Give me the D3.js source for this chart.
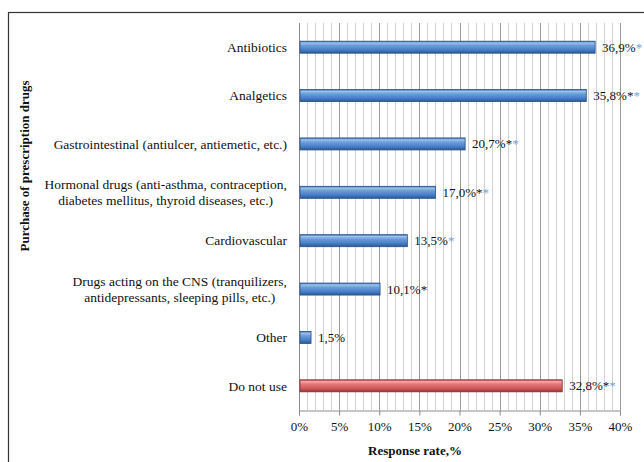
<!DOCTYPE html>
<html>
<head>
<meta charset="utf-8">
<script src="https://cdn.jsdelivr.net/npm/d3@7"></script>
<style>
  html, body { margin: 0; padding: 0; background: #fff; }
  svg { display: block; }
  text { font-family: "Liberation Serif", "Times New Roman", serif; fill: #111; }
</style>
</head>
<body>
<svg id="chart" width="644" height="462"></svg>
<script>
// Purchase of prescription drugs, share of respondents (%)
const categories = [
  ["Antibiotics"],
  ["Analgetics"],
  ["Gastrointestinal (antiulcer, antiemetic, etc.)"],
  ["Hormonal drugs (anti-asthma, contraception,", "diabetes mellitus, thyroid diseases, etc.)"],
  ["Cardiovascular"],
  ["Drugs acting on the CNS (tranquilizers,", "antidepressants, sleeping pills, etc.)"],
  ["Other"],
  ["Do not use"]
];
const values = [36.9, 35.8, 20.7, 17.0, 13.5, 10.1, 1.5, 32.8];
const valueLabels = ["36,9%", "35,8%", "20,7%", "17,0%", "13,5%", "10,1%", "1,5%", "32,8%"];
// significance markers: black asterisk / blue asterisk
const blackStar = [false, true, true, true, false, true, false, true];
const blueStar  = [true, true, true, true, true, false, false, true];
const highlighted = [false, false, false, false, false, false, false, true];
const xTicks = [0, 5, 10, 15, 20, 25, 30, 35, 40];
const xTickLabels = ["0%", "5%", "10%", "15%", "20%", "25%", "30%", "35%", "40%"];

const svg = d3.select("#chart");
const plotLeft = 299, plotRight = 620, plotTop = 23, plotBottom = 410;

const x = d3.scaleLinear().domain([0, 40]).range([plotLeft, plotRight]);
const y = d3.scaleBand().domain(d3.range(categories.length)).range([plotTop, plotBottom]);

// frame
svg.append("rect")
  .attr("x", 8.5).attr("y", 12.5).attr("width", 700).attr("height", 500)
  .attr("fill", "none").attr("stroke", "#333").attr("stroke-width", 1.2);

// gradients
const defs = svg.append("defs");
function grad(id, stops) {
  const g = defs.append("linearGradient").attr("id", id)
    .attr("x1", 0).attr("y1", 0).attr("x2", 0).attr("y2", 1);
  stops.forEach(s => g.append("stop").attr("offset", s[0]).attr("stop-color", s[1]));
}
grad("blueGrad", [[0, "#3d6fb0"], [0.15, "#9cc1ec"], [0.35, "#6d9edb"], [0.7, "#4a80c8"], [1, "#2b5894"]]);
grad("redGrad", [[0, "#b8464a"], [0.15, "#f3aaaa"], [0.35, "#e37878"], [0.7, "#d25a5c"], [1, "#9c3336"]]);

// vertical gridlines, every 1%
const minor = d3.range(1, 41);
svg.append("g").selectAll("line").data(minor).join("line")
  .attr("x1", d => Math.round(x(d)) + 0.5).attr("x2", d => Math.round(x(d)) + 0.5)
  .attr("y1", plotTop).attr("y2", plotBottom)
  .attr("stroke", d => d % 5 === 0 ? "#9a9a9a" : "#d2d2d2")
  .attr("stroke-width", 1);

// x axis
const xAxis = d3.axisBottom(x).tickValues(xTicks)
  .tickFormat((d, i) => xTickLabels[i]).tickSize(5).tickPadding(6);
const gx = svg.append("g").attr("transform", `translate(0,${plotBottom + 0.5})`).call(xAxis);
gx.select(".domain").attr("stroke", "#8a8a8a");
gx.selectAll(".tick line").attr("stroke", "#8a8a8a");
gx.selectAll(".tick text").style("font-size", "13px")
  .style("font-family", "'Liberation Serif', serif").attr("fill", "#111");

// y axis line
svg.append("line")
  .attr("x1", plotLeft + 0.5).attr("x2", plotLeft + 0.5).attr("y1", plotTop).attr("y2", plotBottom + 5)
  .attr("stroke", "#8a8a8a");

// bars
const barH = 12;
const bars = svg.append("g").selectAll("g").data(values).join("g");
bars.append("rect")
  .attr("x", x(0) + 1)
  .attr("y", (d, i) => y(i) + y.bandwidth() / 2 - barH / 2)
  .attr("width", d => x(d) - x(0) - 1)
  .attr("height", barH)
  .attr("fill", (d, i) => highlighted[i] ? "url(#redGrad)" : "url(#blueGrad)")
  .attr("stroke", (d, i) => highlighted[i] ? "#8a2a2e" : "#25508a")
  .attr("stroke-width", 0.8);

// value labels with significance markers
const labels = svg.append("g").selectAll("text").data(values).join("text")
  .attr("x", d => x(d) + 7)
  .attr("y", (d, i) => y(i) + y.bandwidth() / 2)
  .attr("dy", "0.35em")
  .style("font-size", "13px");
labels.append("tspan").text((d, i) => valueLabels[i]);
labels.append("tspan").text((d, i) => blackStar[i] ? "*" : "").attr("fill", "#111");
labels.append("tspan").text((d, i) => blueStar[i] ? "*" : "").attr("fill", "#6fa3dd");

// category labels
const labelRight = 287;
const cat = svg.append("g").selectAll("text").data(categories).join("text")
  .attr("text-anchor", "end")
  .style("font-size", "13.5px");
cat.each(function(lines, i) {
  const cy = y(i) + y.bandwidth() / 2;
  const lh = 16.5;
  const t = d3.select(this);
  lines.forEach((ln, j) => {
    const dy = (j - (lines.length - 1) / 2) * lh;
    t.append("tspan")
      .attr("x", labelRight)
      .attr("y", cy + dy)
      .attr("dy", "0.35em")
      .text(ln);
  });
});
// second lines of two-line labels are centred under the first
cat.filter(d => d.length > 1).each(function() {
  const spans = d3.select(this).selectAll("tspan").nodes();
  const w0 = spans[0].getComputedTextLength();
  const w1 = spans[1].getComputedTextLength();
  d3.select(spans[1]).attr("x", labelRight - (w0 - w1) / 2);
});

// axis titles
svg.append("text")
  .attr("x", 415).attr("y", 455)
  .attr("text-anchor", "middle")
  .style("font-size", "13px").style("font-weight", "bold")
  .text("Response rate,%");

svg.append("text")
  .attr("transform", "translate(29,166) rotate(-90)")
  .attr("text-anchor", "middle")
  .style("font-size", "13px").style("font-weight", "bold")
  .text("Purchase of prescription drugs");
</script>
</body>
</html>
